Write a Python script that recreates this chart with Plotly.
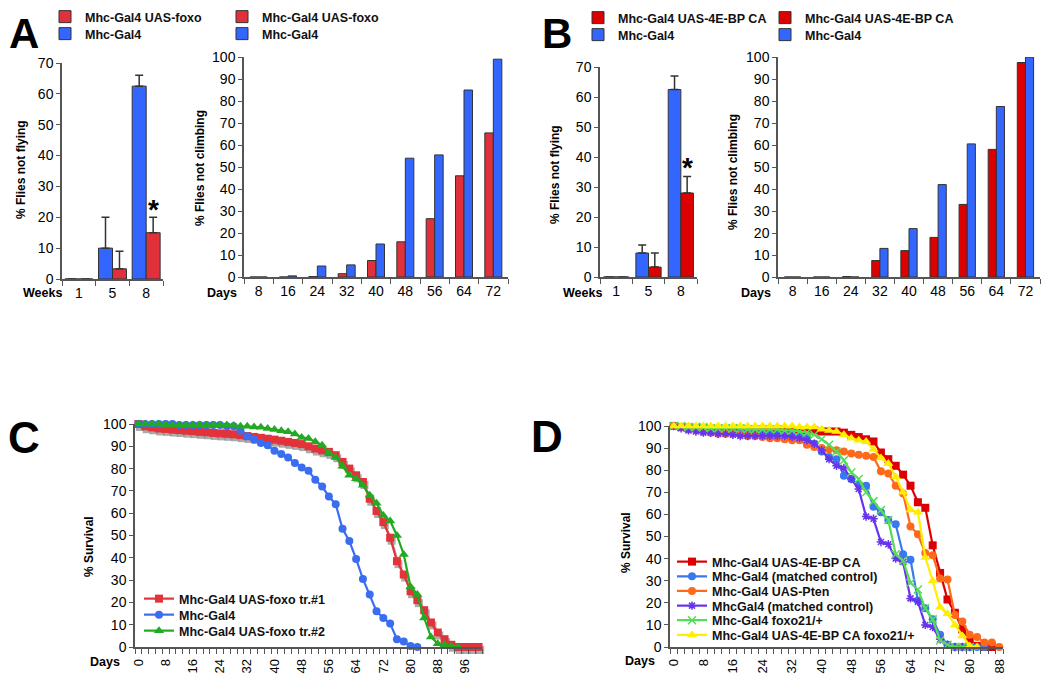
import plotly.graph_objects as go

# page is 1050x684; the html body keeps an 8px margin, so the figure is sized to fit inside it
PAGE_OFF = 8
W, H = 1050 - PAGE_OFF, 684 - PAGE_OFF

# ---------------- data ----------------
week_labels = ["1", "5", "8"]
climb_day_labels = ["8", "16", "24", "32", "40", "48", "56", "64", "72"]

# Panel A - flight (weeks)
flyA_foxo = [0, 3.3, 15]
flyA_foxo_err = [None, 5.7, 5]
flyA_ctrl = [0, 10, 62.5]
flyA_ctrl_err = [None, 10, 3.5]

# Panel A - climbing (days)
climbA_foxo = [0, 0, 0.2, 1.5, 7.5, 16, 26.5, 46, 65.5]
climbA_ctrl = [0, 0.5, 5, 5.5, 15, 54, 55.5, 85, 99]

# Panel B - flight (weeks)
flyB_4ebp = [0, 3.3, 28]
flyB_4ebp_err = [None, 4.7, 5.5]
flyB_ctrl = [0, 8, 62.5]
flyB_ctrl_err = [None, 2.7, 4.5]

# Panel B - climbing (days)
climbB_4ebp = [0, 0, 0.2, 7.5, 12, 18, 33, 58, 97.5]
climbB_ctrl = [0, 0, 0, 13, 22, 42, 60.5, 77.5, 100]

# Panel C - survival
C_red_days = list(range(0, 101, 2))
C_red = [100, 99, 98.5, 98, 97.8, 97.5, 97.3, 97, 96.8, 96.5, 96.3, 96, 95.8, 95.6,
         95.4, 95, 94.6, 94.2, 93.8, 93.4, 93, 92.5, 92, 91.5, 91, 90, 89, 88.2, 87.5,
         86, 83, 80, 77, 74, 66.5, 61, 56, 49, 38.5, 32.5, 25, 21, 16.5, 11, 6.5, 3.5,
         1, 0, 0, 0, 0]
C_blue_days = list(range(0, 83, 2))
C_blue = [100, 100, 100, 100, 100, 100, 99.5, 99.5, 99.5, 99.5, 99.5, 99.5, 99.5, 99, 99,
          97, 94.5, 93, 91.5, 90.5, 88, 86.5, 85, 82.5, 80.5, 79, 75, 72, 67.5, 64, 53,
          47.5, 39.5, 30.5, 23.5, 16, 13, 10.5, 3.5, 2.5, 0.5, 0]
C_green_days = list(range(0, 95, 2))
C_green = [100, 100, 100, 100, 99.5, 99.5, 99.5, 99.5, 99.5, 99.5, 99.5, 99.5, 99.5, 99.5,
           99.3, 99, 99, 98.7, 98.5, 98, 97.5, 97, 96.5, 95.5, 94, 93.5, 92, 90.5, 87, 85,
           81, 77, 75.5, 72.5, 68, 64.5, 59, 56.5, 50, 41.5, 27, 23.5, 13, 4.5, 1.5, 1,
           0.5, 0]

# Panel D - survival
D_red_days = list(range(0, 87, 2))
D_red = [100, 99.5, 99, 99, 99, 98.5, 98.5, 98.5, 98.5, 98.5, 98.5, 98.5, 98.5, 98.5, 98.5,
         98, 98, 98, 98, 98, 97.5, 97.5, 97.5, 97, 96, 95, 94, 93, 88, 85, 82, 78, 73,
         65.5, 63, 46, 33.5, 21.5, 15.5, 8, 3, 0.5, 0, 0]
D_blue_days = list(range(0, 85, 2))
D_blue = [100, 99.5, 99, 98.5, 98.5, 98, 98, 97.5, 97.5, 97, 97, 97, 97, 96.5, 96.5, 96.5,
          96, 95.5, 94.5, 92, 88.5, 86, 85, 77.5, 76, 73.5, 73, 63.5, 61, 57.5, 55.5, 42,
          39.5, 21, 17.5, 12.5, 5.5, 1, 0, 0, 0, 0, 0]
D_orange_days = list(range(0, 89, 2))
D_orange = [100, 99.5, 99.5, 99, 97.5, 97, 96.5, 96.5, 96.5, 96, 95.5, 95.5, 95, 94.5, 94.5,
            94, 93.5, 93.5, 91.5, 90.5, 90, 89.5, 89, 88.5, 87.5, 87, 86.5, 86, 79.5, 78.5,
            73, 69.5, 54.5, 51, 42.5, 41.5, 31, 30.5, 14.5, 11.5, 5.5, 4.5, 2, 2, 0]
D_purple_days = list(range(0, 81, 2))
D_purple = [100, 99, 98, 97.5, 97, 97, 96.5, 96.5, 96, 95.5, 95.5, 95.5, 95.5, 95.5, 95.5,
            95.5, 95, 94.5, 93.5, 92, 89, 85, 82, 81, 76, 71.5, 59, 58, 47.5, 46.5, 40,
            38.5, 22, 20.5, 10, 9, 3.5, 1, 0, 0, 0]
D_green_days = list(range(0, 81, 2))
D_green = [100, 100, 99.5, 99.5, 99.5, 99, 99, 99, 99, 99, 98.5, 98.5, 98.5, 98.5, 98.5,
           98, 98, 97.5, 97, 96, 94, 91.5, 88.5, 84.5, 79, 76, 70, 66, 62, 57.5, 42, 39,
           29, 26, 17.5, 12.5, 3, 1, 0, 0, 0]
D_yellow_days = list(range(0, 83, 2))
D_yellow = [100, 100, 100, 100, 100, 100, 100, 100, 100, 100, 100, 100, 100, 100, 100, 100,
            100, 99.5, 99.5, 99.5, 98.5, 98, 97.5, 96, 94.5, 93.5, 93, 89.5, 85.5, 83, 77,
            70, 62, 61, 40.5, 30, 18, 15, 10, 5, 0.5, 0]

survival_ticks = list(range(0, 97, 8))

# ---------------- style ----------------
FONT = "Arial, Liberation Sans, Helvetica, sans-serif"
AX = "#555555"
A_RED = "#e0313a"
B_RED = "#dd0000"
BLUE = "#3366ff"


def fx(p):
    return (p - PAGE_OFF) / W


def fy(p):
    return 1 - (p - PAGE_OFF) / H


def err(arr):
    return dict(type="data", array=arr, arrayminus=[None if v is None else 0 for v in arr],
                symmetric=False, color="#333333", thickness=1.5, width=4)


leg_font = dict(family=FONT, size=12.5, color="#111111", weight="bold")
legends = {}


def new_legend(x, y):
    key = "legend" if not legends else "legend%d" % (len(legends) + 1)
    legends[key] = dict(x=fx(x), y=fy(y), xanchor="left", yanchor="middle",
                        bgcolor="rgba(0,0,0,0)", borderwidth=0, font=leg_font,
                        itemclick=False, itemdoubleclick=False)
    return key


fig = go.Figure()
bar_line = dict(color="#333333", width=1)

# A1: flight
fig.add_trace(go.Bar(x=week_labels, y=flyA_ctrl, width=0.415, offset=-0.415, name="Mhc-Gal4",
                     marker=dict(color=BLUE, line=bar_line), error_y=err(flyA_ctrl_err),
                     xaxis="x", yaxis="y", legend=new_legend(45, 34)))
fig.add_trace(go.Bar(x=week_labels, y=flyA_foxo, width=0.415, offset=0, name="Mhc-Gal4 UAS-foxo",
                     marker=dict(color=A_RED, line=bar_line), error_y=err(flyA_foxo_err),
                     xaxis="x", yaxis="y", legend=new_legend(45, 17)))
# A2: climbing
fig.add_trace(go.Bar(x=climb_day_labels, y=climbA_foxo, width=0.29, offset=-0.29,
                     name="Mhc-Gal4 UAS-foxo", marker=dict(color=A_RED, line=bar_line),
                     xaxis="x2", yaxis="y2", legend=new_legend(222, 17)))
fig.add_trace(go.Bar(x=climb_day_labels, y=climbA_ctrl, width=0.29, offset=0, name="Mhc-Gal4",
                     marker=dict(color=BLUE, line=bar_line), xaxis="x2", yaxis="y2",
                     legend=new_legend(222, 34)))
# B1: flight
fig.add_trace(go.Bar(x=week_labels, y=flyB_ctrl, width=0.39, offset=-0.39, name="Mhc-Gal4",
                     marker=dict(color=BLUE, line=bar_line), error_y=err(flyB_ctrl_err),
                     xaxis="x3", yaxis="y3", legend=new_legend(578, 35)))
fig.add_trace(go.Bar(x=week_labels, y=flyB_4ebp, width=0.39, offset=0,
                     name="Mhc-Gal4 UAS-4E-BP CA", marker=dict(color=B_RED, line=bar_line),
                     error_y=err(flyB_4ebp_err), xaxis="x3", yaxis="y3",
                     legend=new_legend(578, 18)))
# B2: climbing
fig.add_trace(go.Bar(x=climb_day_labels, y=climbB_4ebp, width=0.28, offset=-0.28,
                     name="Mhc-Gal4 UAS-4E-BP CA", marker=dict(color=B_RED, line=bar_line),
                     xaxis="x4", yaxis="y4", legend=new_legend(765, 18)))
fig.add_trace(go.Bar(x=climb_day_labels, y=climbB_ctrl, width=0.28, offset=0, name="Mhc-Gal4",
                     marker=dict(color=BLUE, line=bar_line), xaxis="x4", yaxis="y4",
                     legend=new_legend(765, 35)))


def surv(x, y, name, color, symbol, size, ax, leg, mline=0, show=True):
    return go.Scatter(x=x, y=y, name=name, mode="lines+markers", cliponaxis=False,
                      line=dict(color=color, width=2.2),
                      marker=dict(symbol=symbol, size=size, color=color,
                                  line=dict(color=color, width=mline)),
                      xaxis="x" + ax, yaxis="y" + ax, legend=leg, showlegend=show)


# C: soft grey drop shadow under the first curve, on a hidden axis pair (x5/y5) that has the
# same scales as the visible panel-C axes (x7/y7) but sits 1.5 px right and 3 px lower
fig.add_trace(surv(C_red_days, C_red, "shadow", "rgba(135,135,135,0.7)", "square", 8, "5",
                   None, show=False))
fig.add_trace(surv(C_red_days, C_red, "Mhc-Gal4 UAS-foxo tr.#1", "#e3333a", "square", 8, "7",
                   new_legend(139, 599)))
fig.add_trace(surv(C_blue_days, C_blue, "Mhc-Gal4", "#3a6df0", "circle", 8, "7",
                   new_legend(139, 615)))
fig.add_trace(surv(C_green_days, C_green, "Mhc-Gal4 UAS-foxo tr.#2", "#22aa22", "triangle-up", 9,
                   "7", new_legend(139, 631)))
# D
fig.add_trace(surv(D_red_days, D_red, "Mhc-Gal4 UAS-4E-BP CA", "#dd0000", "square", 8, "6",
                   new_legend(672, 562)))
fig.add_trace(surv(D_blue_days, D_blue, "Mhc-Gal4 (matched control)", "#3a78f0", "circle", 8, "6",
                   new_legend(672, 576.7)))
fig.add_trace(surv(D_orange_days, D_orange, "Mhc-Gal4 UAS-Pten", "#ff6a1a", "circle", 8, "6",
                   new_legend(672, 591.3)))
fig.add_trace(surv(D_purple_days, D_purple, "MhcGal4 (matched control)", "#6633ee", "asterisk-open",
                   7, "6", new_legend(672, 606), 1.5))
fig.add_trace(surv(D_green_days, D_green, "Mhc-Gal4 foxo21/+", "#55dd55", "x-thin-open", 8, "6",
                   new_legend(672, 620.6), 1.5))
fig.add_trace(surv(D_yellow_days, D_yellow, "Mhc-Gal4 UAS-4E-BP CA foxo21/+", "#ffee00",
                   "triangle-up", 9, "6", new_legend(672, 635.3)))

tickfont = dict(family=FONT, size=14, color="black")


def bar_x(x0, x1, n, anchor):
    return dict(domain=[fx(x0), fx(x1)], anchor=anchor, type="category", tickson="boundaries",
                range=[-0.5, n - 0.5], ticks="outside", ticklen=5, tickwidth=1, tickcolor=AX,
                showline=True, linecolor=AX, linewidth=1.5, showgrid=False, zeroline=False,
                tickfont=tickfont, fixedrange=True)


def lin_y(y0, y1, top, anchor):
    return dict(domain=[fy(y1), fy(y0)], anchor=anchor, range=[0, top], tick0=0, dtick=10,
                ticks="outside", ticklen=4, tickwidth=1, tickcolor=AX, showline=True,
                linecolor=AX, linewidth=1.5, showgrid=False, zeroline=False, tickfont=tickfont,
                fixedrange=True)


def surv_x(x0, x1, rng, anchor):
    return dict(domain=[fx(x0), fx(x1)], anchor=anchor, range=rng, tickmode="array",
                tickvals=survival_ticks, ticktext=[str(v) for v in survival_ticks],
                ticks="outside", ticklen=5, tickcolor="rgba(0,0,0,0)", tickangle=-90,
                minor=dict(tick0=-1, dtick=2, ticks="outside", ticklen=5, tickcolor=AX, tickwidth=1),
                showline=True, linecolor=AX, linewidth=1.5, showgrid=False, zeroline=False,
                tickfont=dict(family=FONT, size=13, color="black"), fixedrange=True)


fig.update_layout(
    width=W, height=H, margin=dict(l=0, r=0, t=0, b=0, autoexpand=False),
    paper_bgcolor="white", plot_bgcolor="rgba(0,0,0,0)",
    font=dict(family=FONT, color="black"), showlegend=True,
    xaxis=bar_x(62, 163, 3, "y"), yaxis=lin_y(63, 279, 70, "x"),
    xaxis2=bar_x(244, 508, 9, "y2"), yaxis2=lin_y(57, 277, 100, "x2"),
    xaxis3=bar_x(600, 697, 3, "y3"), yaxis3=lin_y(67, 277, 70, "x3"),
    xaxis4=bar_x(778, 1040, 9, "y4"), yaxis4=lin_y(57, 277, 100, "x4"),
    # hidden shadow axes for panel C
    xaxis5=dict(domain=[fx(136.5), fx(483.5)], anchor="y5", range=[-1, 101], visible=False,
                fixedrange=True),
    yaxis5=dict(domain=[fy(650), fy(427)], anchor="x5", range=[0, 100], visible=False,
                fixedrange=True),
    xaxis6=surv_x(670, 1003, [-1, 89], "y6"), yaxis6=lin_y(426, 647, 100, "x6"),
    xaxis7=surv_x(135, 482, [-1, 101], "y7"), yaxis7=lin_y(424, 647, 100, "x7"),
    **legends,
)

ann = []


def text(x, y, s, size, bold=True, angle=0, xanchor="center", yanchor="middle"):
    ann.append(dict(x=fx(x), y=fy(y), xref="paper", yref="paper", text=s, showarrow=False,
                    textangle=angle, xanchor=xanchor, yanchor=yanchor,
                    font=dict(family=FONT, size=size, color="black",
                              weight="bold" if bold else "normal")))


text(24, 8, "A", 42, yanchor="top")
text(557, 8, "B", 42, yanchor="top")
text(24, 437, "C", 44)
text(547, 436, "D", 44)

text(21, 170, "% Flies not flying", 12, angle=-90)
text(200, 168, "% Flies not climbing", 12, angle=-90)
text(555, 175, "% Flies not flying", 12, angle=-90)
text(733, 172, "% Flies not climbing", 12, angle=-90)
text(89, 547, "% Survival", 12, angle=-90)
text(626, 543, "% Survival", 12, angle=-90)

text(42, 293, "Weeks", 12.5)
text(222, 293, "Days", 12.5)
text(582, 293, "Weeks", 12.5)
text(756, 293, "Days", 12.5)
text(105, 662, "Days", 12.5)
text(640, 661, "Days", 12.5)

# significance stars above the mutant bars at week 8 (category index 2)
ann.append(dict(x=2 + 0.2075, y=flyA_foxo[2] + 2, xref="x", yref="y", yanchor="bottom",
                text="*", showarrow=False,
                font=dict(family=FONT, size=28, color="black", weight="bold")))
ann.append(dict(x=2 + 0.195, y=flyB_4ebp[2] + 2.8, xref="x3", yref="y3", yanchor="bottom",
                text="*", showarrow=False,
                font=dict(family=FONT, size=28, color="black", weight="bold")))

fig.update_layout(annotations=ann)
fig.write_html("out.html")
